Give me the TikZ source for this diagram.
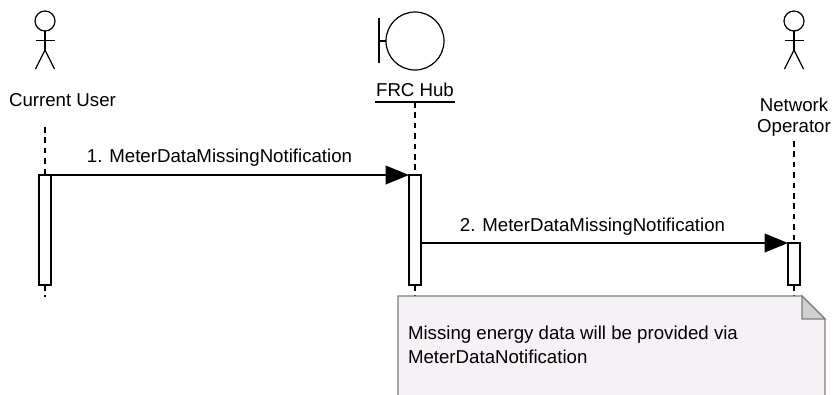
\documentclass[tikz,border=0pt]{standalone}
\usepackage{fontspec}
\setmainfont{Liberation Sans}
\usetikzlibrary{arrows.meta}
\definecolor{notefill}{HTML}{F5F1F5}
\definecolor{noteline}{HTML}{808080}
\definecolor{foldfill}{HTML}{D2CFD2}
\tikzset{
  x=0.75pt,y=-0.75pt,
  lineblack/.style={draw=black,line width=0.9pt},
  lifeline/.style={draw=black,line width=0.8pt,dash pattern=on 4.2pt off 3.6pt},
  activation/.style={draw=black,line width=1pt,fill=white,minimum width=9pt,inner sep=0pt,outer sep=0pt,anchor=north},
  message/.style={draw=black,line width=1.1pt,-{Triangle[length=17.5pt,width=14pt]}},
  lbl/.style={font=\fontsize{14}{16}\selectfont,inner sep=0pt,outer sep=0pt,align=center,text=black},
  notetext/.style={font=\fontsize{14}{18}\selectfont,inner sep=0pt,outer sep=0pt,align=left,anchor=north west,text=black},
}
\newcommand{\stickman}[2]{%
  \draw[lineblack] (#1,21) circle[radius=10];
  \draw[lineblack] (#1,31) -- (#1,50);
  \draw[lineblack] (#1-9.5,40.5) -- (#1+9.5,40.5);
  \draw[lineblack] (#1-9.5,69) -- (#1,50) -- (#1+9.5,69);
}
\begin{document}
\begin{tikzpicture}
\path[use as bounding box] (0,0) rectangle (833,394);
\clip (0,0) rectangle (833,394);
% actors
\stickman{45}{}
\stickman{794}{}
\node[lbl] (user) at (62.5,100) {Current User};
\node[lbl,anchor=center] (oper) at (794,117.5) {Network\\Operator};
% boundary
\node[circle,draw=black,line width=0.9pt,minimum size=43.5pt,inner sep=0pt,outer sep=0pt] (hubc) at (415,41) {};
\coordinate (hubb) at (379,41);
\draw[lineblack] (379,18) -- (379,63);
\draw[lineblack] (hubb) -- (hubc.west);
\node[lbl] (hub) at (415,90) {FRC Hub};
\coordinate (hubul) at (375,102);
\coordinate (hubur) at (455,102);
\draw[draw=black,line width=1pt] (hubul) -- (hubur);
% activations
\node[activation,minimum height=82.5pt] (a1) at (45,175) {};
\node[activation,minimum height=82.5pt] (a2) at (415,175) {};
\node[activation,minimum height=31.5pt] (a3) at (794,243) {};
% lifelines
\coordinate (l1t) at (45,127);
\coordinate (l1b) at (45,297);
\coordinate (l2t) at (415,102);
\coordinate (l2b) at (415,296);
\coordinate (l3t) at (794,141);
\coordinate (l3b) at (794,296);
\draw[lifeline] (l1t) -- (a1.north);
\draw[lifeline] (a1.south) -- (l1b);
\draw[lifeline] (l2t) -- (a2.north);
\draw[lifeline] (a2.south) -- (l2b);
\draw[lifeline] (l3t) -- (a3.north);
\draw[lifeline] (a3.south) -- (l3b);
% messages
\draw[message] (a1.north east) -- (a2.north west);
\node[lbl] (m1) at (219.5,158) {1. MeterDataMissingNotification};
\coordinate (m2s) at (a2.east |- a3.north);
\draw[message] (m2s) -- (a3.north west);
\node[lbl] (m2) at (592.5,227) {2. MeterDataMissingNotification};
% note
\draw[draw=noteline,line width=1pt,fill=notefill] (398,400) -- (398,296) -- (802,296) -- (825,319) -- (825,400);
\draw[draw=noteline,line width=1pt,fill=foldfill] (802,296) -- (825,319) -- (802,319) -- cycle;
\node[notetext] (note) at (408,326) {Missing energy data will be provided via\\MeterDataNotification};
\end{tikzpicture}
\end{document}
